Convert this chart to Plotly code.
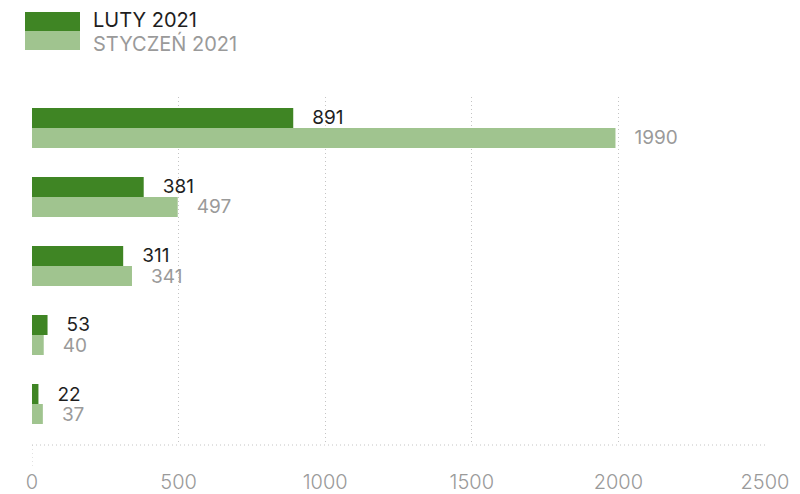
import plotly.graph_objects as go

categories = ["A", "B", "C", "D", "E"]
luty_2021 = [891, 381, 311, 53, 22]
styczen_2021 = [1990, 497, 341, 40, 37]
series_names = ["LUTY 2021", "STYCZEŃ 2021"]
tick_values = [0, 500, 1000, 1500, 2000, 2500]

DARK = "#3f8524"
LIGHT = "#a0c48f"
FONT = "Inter"
GRID = "#c4c4c4"

fig = go.Figure()
fig.add_trace(go.Bar(
    y=categories, x=luty_2021, orientation="h", name=series_names[0],
    marker=dict(color=DARK, line=dict(width=0)),
    text=[f"\u00a0\u00a0\u00a0{v}" for v in luty_2021], textposition="outside",
    constraintext="none",
    textfont=dict(family=FONT, size=19, color="#1e1e1e"), cliponaxis=False,
))
fig.add_trace(go.Bar(
    y=categories, x=styczen_2021, orientation="h", name=series_names[1],
    marker=dict(color=LIGHT, line=dict(width=0)),
    text=[f"\u00a0\u00a0\u00a0{v}" for v in styczen_2021], textposition="outside",
    constraintext="none",
    textfont=dict(family=FONT, size=19, color="#9a9a9a"), cliponaxis=False,
))

fig.update_layout(
    width=800, height=494,
    margin=dict(l=32, r=35, t=97, b=49, autoexpand=False),
    paper_bgcolor="white", plot_bgcolor="white",
    barmode="group", bargap=0.42, bargroupgap=0,
    showlegend=False,
    font=dict(family=FONT),
    uniformtext=dict(mode=False),
)
fig.update_xaxes(
    range=[0, 2500], tickvals=tick_values, showgrid=True, gridcolor=GRID,
    griddash="1px,3px", gridwidth=1, zeroline=False, showline=False,
    ticks="outside", ticklen=19, tickcolor="rgba(0,0,0,0)", automargin=False,
    tickfont=dict(family=FONT, size=20, color="#9a9a9a", weight=300),
)
fig.update_yaxes(
    range=[4.594, -0.449], showticklabels=False, showgrid=False, zeroline=False,
    showline=False, ticks="", automargin=False,
)

# bottom dotted axis line and extended zero line
fig.add_shape(type="line", xref="paper", yref="paper", x0=0, x1=1, y0=0, y1=0,
              line=dict(color=GRID, width=1, dash="1px,3px"))
fig.add_shape(type="line", xref="x", yref="paper", x0=0, x1=0, y0=0, y1=-0.06,
              line=dict(color=GRID, width=1, dash="1px,3px"))

# custom legend
legend_colors = [DARK, LIGHT]
legend_text_colors = ["#1e1e1e", "#9a9a9a"]
legend_text_centers = [20.5, 43]
for i, (name, c, tc) in enumerate(zip(series_names, legend_colors, legend_text_colors)):
    top = 12 + i * 19
    fig.add_shape(type="rect", xref="paper", yref="paper",
                  x0=-7 / 733, x1=48 / 733,
                  y0=1 + (97 - top - 19) / 348, y1=1 + (97 - top) / 348,
                  line=dict(width=0), fillcolor=c)
    fig.add_annotation(xref="paper", yref="paper", x=59 / 733,
                       y=1 + (97 - legend_text_centers[i]) / 348,
                       text=name, showarrow=False, xanchor="left", yanchor="middle",
                       font=dict(family=FONT, size=20, color=tc))

fig.write_html("out.html")
